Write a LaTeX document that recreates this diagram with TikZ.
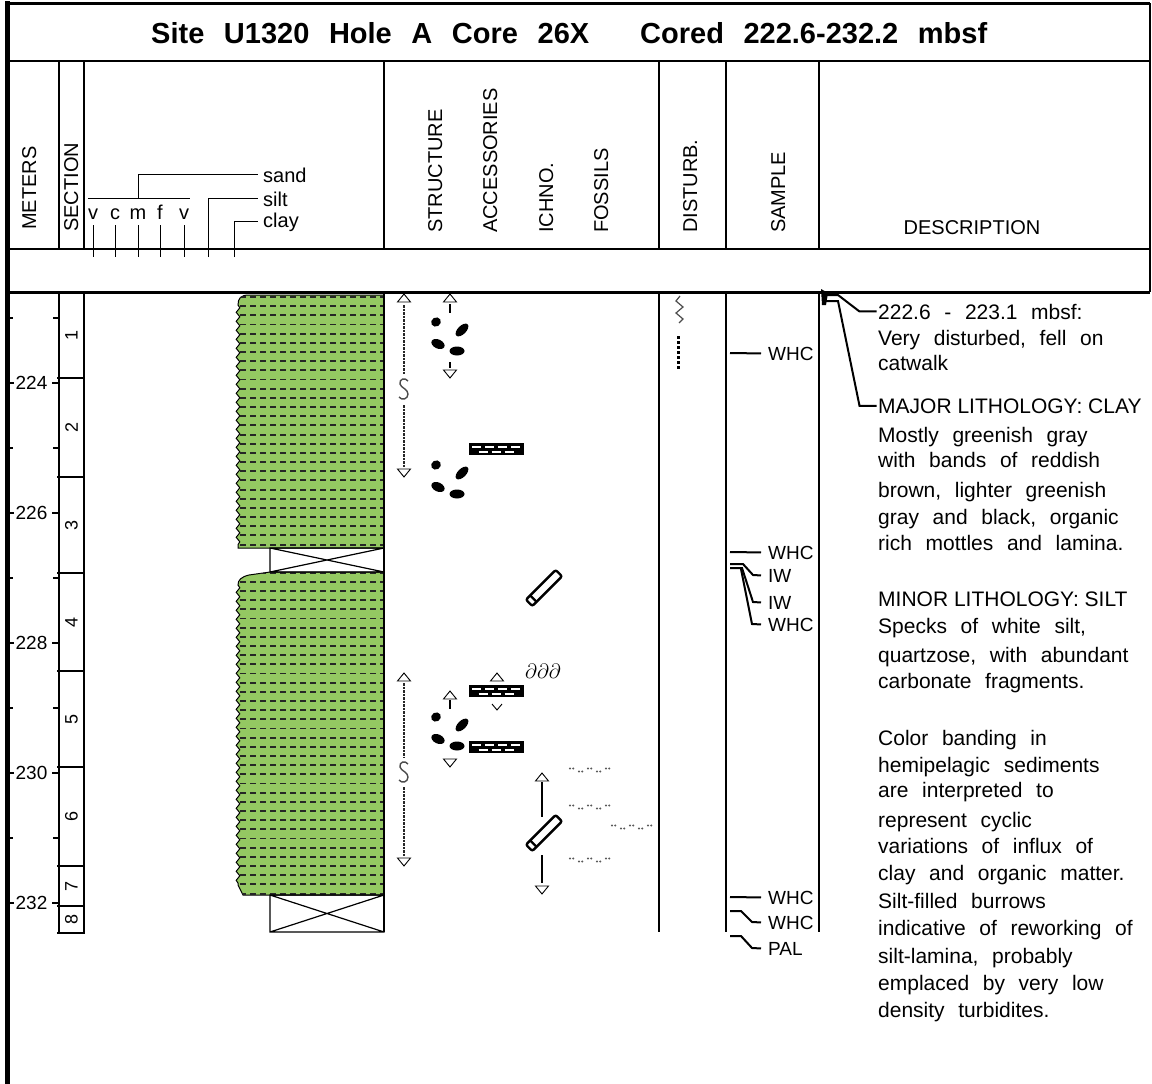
\documentclass[tikz,border=0pt]{standalone}
\usepackage{fontspec}
\setmainfont{Liberation Sans}
\usetikzlibrary{positioning,decorations.pathmorphing}

\definecolor{claygreen}{RGB}{148,200,98}

\tikzset{
  tri up/.pic={\draw[line width=0.9, fill=white] (-6.5,4) -- (0,-4) -- (6.5,4) -- cycle;},
  tri down/.pic={\draw[line width=0.9, fill=white] (-6.5,-4) -- (0,4) -- (6.5,-4) -- cycle;},
  sglyph/.pic={\draw[line width=1.4, black!70] (4,-8) .. controls (1,-12) and (-5,-10) .. (-4,-5)
      .. controls (-3,-1) and (4,0) .. (4,5) .. controls (4,10) and (-2,12) .. (-5,8);},
  mottles/.pic={
    \fill[rotate around={30:(-13,-14)}] (-13,-14) ellipse (5 and 4.5);
    \fill[rotate around={45:(13,-6)}] (13,-6) ellipse (8 and 4.2);
    \fill[rotate around={-25:(-11,8)}] (-11,8) ellipse (7 and 4.5);
    \fill (8,15) ellipse (7.5 and 4.5);
  },
  lamina/.pic={
    \fill (-27.5,-6) rectangle (27.5,6);
    \foreach \i in {0,...,3} \draw[white, line width=2] (-24+\i*13,-2.3) -- ++(9,0);
    \foreach \i in {0,...,2} \draw[white, line width=2] (-17.5+\i*13,2.6) -- ++(9,0);
  },
  burrow/.pic={
    \begin{scope}[rotate=45]
      \draw[line width=2.4, rounded corners=2] (-21,-4.5) rectangle (21,4.5);
      \draw[line width=2.4] (-15,-4.5) -- (-15,4.5);
    \end{scope}
  },
  specks/.pic={
    \foreach \i/\h in {0/-1.5,1/1.5,2/-1.5,3/1.5,4/-1.5}
      \fill[black!65] (-20+\i*9,\h) circle (1.1) ++(3.2,0) circle (1.1);
  },
}

\def\claytop{(384,295) -- (249,295) .. controls (241,295) and (238,298) .. (238,305)
  decorate {-- (238,548)} -- (384,548) -- cycle}
\def\claylow{(384,572) -- (270,572) -- (249,575) .. controls (241,577) and (238,580) .. (238,585)
  decorate {-- (238,885)} -- (243,895) -- (384,895) -- cycle}

\begin{document}
\begin{tikzpicture}[x=1pt, y=-1pt,
  rule/.style={line width=2},
  hdr/.style={rotate=90, anchor=base west, inner sep=0, font=\fontsize{20}{24}\selectfont},
  desc/.style={anchor=base west, inner xsep=1.5, inner ysep=0, font=\fontsize{21}{25}\selectfont,
    execute at begin node={\spaceskip=0.65em\relax}},
  deschead/.style={anchor=base west, inner xsep=1.5, inner ysep=0, font=\fontsize{21}{25}\selectfont},
  titletext/.style={anchor=base west, inner sep=0, font=\fontsize{29}{30}\selectfont\bfseries,
    execute at begin node={\spaceskip=19.6pt\relax}},
  samp/.style={anchor=base west, inner xsep=7, inner ysep=0, font=\fontsize{19}{22}\selectfont},
  rangeline/.style={line width=2, black!85, dash pattern=on 2.5 off 1},
  claydash/.style={line width=1.9, black!85, dash pattern=on 6.2 off 3.8},
  wavy/.style={decoration={snake, amplitude=1.8pt, segment length=9pt}},
  void/.style={line width=1.2},
]
\useasboundingbox (0,0) rectangle (1152,1084);

% frame
\draw[line width=4.5] (7.5,1) -- (7.5,1084);
\draw[line width=3] (6,3) -- (1150,3);
\draw[rule] (1150,3) -- (1150,292);
\draw[rule] (8,61) -- (1150,61);
\draw[rule] (8,249) -- (1150,249);
\draw[line width=3] (8,292) -- (1150,292);
\foreach \x in {59,84,384,659,726,819} \draw[rule] (\x,61) -- (\x,249);

% title
\node[titletext] (title) at (151,43) {Site U1320 Hole A Core 26X};
\node[titletext] (cored) at (640,43) {Cored 222.6-232.2 mbsf};

% headers
\node[hdr] (meters) at (36,230) {METERS};
\node[hdr] (section) at (78,232) {SECTION};
\node[hdr] (structure) at (442,233) {STRUCTURE};
\node[hdr] (accessories) at (497,233) {ACCESSORIES};
\node[hdr] (ichno) at (553,233) {ICHNO.};
\node[hdr] (fossils) at (608,233) {FOSSILS};
\node[hdr] (disturb) at (697,233) {DISTURB.};
\node[hdr] (sample) at (785,233) {SAMPLE};
\node[font=\fontsize{20}{24}\selectfont] (description) at (972,228) {DESCRIPTION};

% grain size scale
\foreach \g/\x [count=\k] in {v/93, c/115, m/138, f/160, v/184} {
  \node[anchor=base, inner sep=0, font=\fontsize{20}{24}\selectfont] (g\k) at (\x,219) {\g};
  \draw[line width=1] (\x,225) -- (\x,257);
}
\node[samp, font=\fontsize{20}{24}\selectfont, inner xsep=5] (sand) at (258,182) {sand};
\node[samp, font=\fontsize{20}{24}\selectfont, inner xsep=5] (silt) at (258,206) {silt};
\node[samp, font=\fontsize{20}{24}\selectfont, inner xsep=5] (clay) at (258,227) {clay};
\draw[line width=1] (88,198) -- (190,198);
\draw[line width=1] (138,198) |- (sand.west);
\draw[line width=1] (208,257) |- (silt.west);
\draw[line width=1] (234,257) |- (clay.west);

% meters
\foreach \m in {224,226,...,232} {
  \pgfmathsetmacro{\ty}{383+(\m-224)*65}
  \node[font=\fontsize{19}{22}\selectfont, inner sep=0] (m\m) at (31.5,\ty) {\m};
  \draw[line width=2] (8,\ty) -- (14,\ty) (52,\ty) -- (59,\ty);
}
\foreach \m in {223,225,...,231} {
  \pgfmathsetmacro{\ty}{383+(\m-224)*65}
  \draw[line width=2] (8,\ty) -- (13,\ty) (53,\ty) -- (59,\ty);
}

% sections
\draw[rule] (59,292) -- (59,933) (84,292) -- (84,933);
\foreach \b in {378,477,573,671,767,866,906,933} \draw[rule] (57,\b) -- (85,\b);
\foreach \n/\c in {1/335,2/427,3/525,4/622,5/719,6/816,7/886,8/919}
  \node[rotate=90, font=\fontsize{18}{20}\selectfont, inner sep=0] (sec\n) at (71.5,\c) {\n};

% lithology
\filldraw[wavy, fill=claygreen, line width=1] \claytop;
\begin{scope}
  \clip[wavy] \claytop;
  \foreach \r in {0,...,27} \draw[claydash] (240,297+\r*9.17) -- (390,297+\r*9.17);
\end{scope}
\filldraw[wavy, fill=claygreen, line width=1] \claylow;
\begin{scope}
  \clip[wavy] \claylow;
  \foreach \r in {0,...,35} \draw[claydash] (240,572.6+\r*9.17) -- (390,572.6+\r*9.17);
\end{scope}
\draw[void] (270,548) rectangle (384,572) (270,548) -- (384,572) (270,572) -- (384,548);
\draw[void] (270,895) rectangle (384,932) (270,895) -- (384,932) (270,932) -- (384,895);

% columns in core
\foreach \x in {384,659,726,819} \draw[rule] (\x,292) -- (\x,932);

% structure
\pic at (404,298) {tri up};
\draw[rangeline] (404,305) -- (404,374);
\pic at (404,389) {sglyph};
\draw[rangeline] (404,405) -- (404,467);
\pic at (404,473) {tri down};
\pic at (404,677) {tri up};
\draw[rangeline] (404,683) -- (404,757);
\pic at (404,772) {sglyph};
\draw[rangeline] (404,787) -- (404,857);
\pic at (404,862) {tri down};

% accessories
\pic at (450,298) {tri up};
\draw[line width=2] (450,304) -- (450,313);
\pic at (449,336) {mottles};
\draw[line width=2] (450,362) -- (450,368);
\pic at (450,374) {tri down};
\pic at (449,479) {mottles};
\pic at (496,449) {lamina};
\pic at (497,677) {tri up};
\pic at (496,691) {lamina};
\draw[line width=0.9] (492,704) -- (497,710) -- (502,704);
\pic at (450,695) {tri up};
\draw[line width=2] (450,700) -- (450,709);
\pic at (449,731) {mottles};
\pic at (450,763) {tri down};
\pic at (496,747) {lamina};

% ichno and fossils
\pic at (544,588) {burrow};
\pic at (542,777) {tri up};
\draw[line width=2] (542,782) -- (542,817);
\pic at (544,833) {burrow};
\draw[line width=2] (542,855) -- (542,883);
\pic at (542,890) {tri down};
\node[font=\fontsize{20}{22}\selectfont, inner sep=0] (fos) at (543,671) {$\partial\partial\partial$};
\pic at (590,770) {specks};
\pic at (590,807) {specks};
\pic at (632,827) {specks};
\pic at (590,860) {specks};

% disturbance
\draw[line width=1.2, black!70] (680,296) -- (676,301) -- (683,307) -- (676,313) -- (683,319) -- (679,323);
\draw[line width=3, dash pattern=on 3 off 2] (678,336) -- (678,369);

% samples
\node[samp] (s1) at (761,360) {WHC};
\node[samp] (s2) at (761,559) {WHC};
\node[samp] (s3) at (761,582) {IW};
\node[samp] (s4) at (761,609) {IW};
\node[samp] (s5) at (761,631) {WHC};
\node[samp] (s6) at (761,904) {WHC};
\node[samp] (s7) at (761,929) {WHC};
\node[samp] (s8) at (761,955) {PAL};
\draw[line width=2] (730,353) -- (s1.west);
\draw[line width=2] (730,552) -- (s2.west);
\draw[line width=2] (730,564) -- (743,564) -- (753,575) -- (s3.west);
\draw[line width=2] (730,568) -- (742,568) -- (753,602) -- (s4.west);
\draw[line width=2] (741,569) -- (752,624) -- (s5.west);
\draw[line width=2] (730,897) -- (s6.west);
\draw[line width=2] (730,911) -- (741,911) -- (752,922) -- (s7.west);
\draw[line width=2] (730,936) -- (741,936) -- (752,948) -- (s8.west);

% description
\node[desc] (d1) at (876.5,319) {222.6 - 223.1 mbsf:};
\node[desc] (d2) at (876.5,345) {Very disturbed, fell on};
\node[desc] (d3) at (876.5,370) {catwalk};
\node[deschead] (d4) at (876.5,413) {MAJOR LITHOLOGY: CLAY};
\node[desc] (d5) at (876.5,442) {Mostly greenish gray};
\node[desc] (d6) at (876.5,467) {with bands of reddish};
\node[desc] (d7) at (876.5,497) {brown, lighter greenish};
\node[desc] (d8) at (876.5,524) {gray and black, organic};
\node[desc] (d9) at (876.5,550) {rich mottles and lamina.};
\node[deschead] (d10) at (876.5,606) {MINOR LITHOLOGY: SILT};
\node[desc] (d11) at (876.5,633) {Specks of white silt,};
\node[desc] (d12) at (876.5,662) {quartzose, with abundant};
\node[desc] (d13) at (876.5,688) {carbonate fragments.};
\node[desc] (d14) at (876.5,745) {Color banding in};
\node[desc] (d15) at (876.5,772) {hemipelagic sediments};
\node[desc] (d16) at (876.5,797) {are interpreted to};
\node[desc] (d17) at (876.5,827) {represent cyclic};
\node[desc] (d18) at (876.5,853) {variations of influx of};
\node[desc] (d19) at (876.5,880) {clay and organic matter.};
\node[desc] (d20) at (876.5,908) {Silt-filled burrows};
\node[desc] (d21) at (876.5,935) {indicative of reworking of};
\node[desc] (d22) at (876.5,963) {silt-lamina, probably};
\node[desc] (d23) at (876.5,990) {emplaced by very low};
\node[desc] (d24) at (876.5,1017) {density turbidites.};

% leaders
\coordinate (hit1) at (824,295);
\coordinate (hit2) at (825,301);
\fill (821,289) -- (828,293) -- (826,305) -- (822,305) -- cycle;
\draw[line width=2] (d1.west) -- ++(-17,0) -- (838,295) -- (hit1);
\draw[line width=2] (d4.west) -- ++(-17,0) -- (838,301) -- (hit2);
\end{tikzpicture}
\end{document}
